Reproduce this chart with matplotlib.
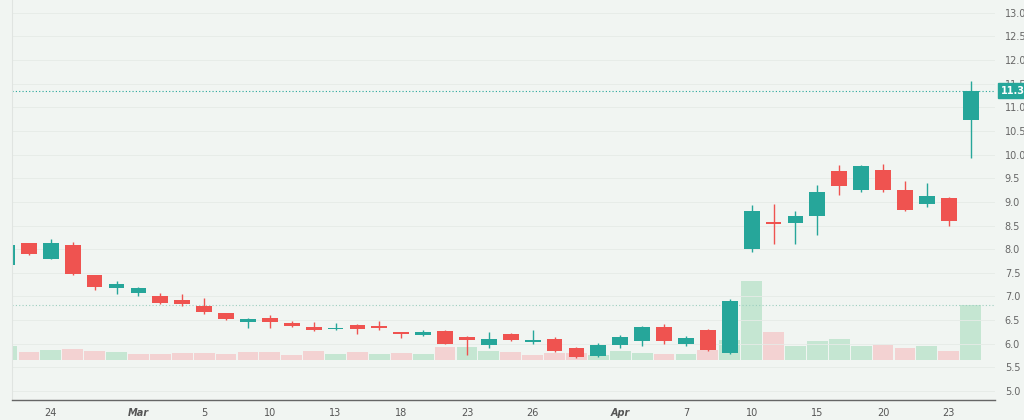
import matplotlib
matplotlib.use("Agg")
import matplotlib.pyplot as plt
import numpy as np

opens  = [7.67,8.12,7.80,8.09,7.45,7.17,7.08,7.00,6.93,6.80,6.64,6.46,6.55,6.43,6.35,6.31,6.39,6.37,6.24,6.18,6.27,6.14,5.97,6.21,
          6.04,6.10,5.92,5.75,5.98,6.05,6.35,6.00,6.28,5.80,8.00,8.57,8.55,8.70,9.65,9.25,9.68,9.25,8.95,9.08,10.74]
closes = [8.09,7.89,8.12,7.47,7.21,7.26,7.17,6.87,6.84,6.67,6.53,6.52,6.45,6.37,6.29,6.33,6.31,6.34,6.20,6.25,6.00,6.07,6.10,6.08,
          6.06,5.85,5.72,5.98,6.15,6.35,6.05,6.12,5.87,6.90,8.80,8.53,8.70,9.20,9.33,9.75,9.25,8.83,9.12,8.60,11.35]
highs  = [8.10,8.13,8.22,8.15,7.46,7.33,7.21,7.07,7.05,6.97,6.66,6.55,6.60,6.49,6.45,6.44,6.41,6.49,6.25,6.28,6.29,6.16,6.24,6.22,
          6.30,6.14,5.94,6.02,6.18,6.38,6.42,6.17,6.31,6.95,8.93,8.95,8.80,9.35,9.78,9.77,9.80,9.45,9.40,9.10,11.56]
lows   = [7.66,7.87,7.79,7.46,7.14,7.05,7.02,6.85,6.80,6.62,6.51,6.34,6.34,6.36,6.26,6.30,6.21,6.29,6.12,6.16,5.99,5.77,5.92,6.05,
          6.00,5.82,5.70,5.72,5.90,5.96,6.00,5.95,5.85,5.78,7.95,8.10,8.10,8.30,9.15,9.20,9.20,8.80,8.90,8.50,9.92]
volumes = [14,8.3,10,10.7,9,8,6,6,6.7,6.7,6,8,8,5,8.7,6,8,6,7.3,6,13.3,12.7,8.7,8,
           5.3,6.7,6.7,5.3,9,7,6.3,6.3,10,20,79,28,14,19,21,14,15,12,14,9,55]
vol_up = [1,0,1,0,0,1,0,0,0,0,0,0,0,0,0,1,0,1,0,1,0,1,1,0,
          0,0,0,1,1,1,0,1,0,1,1,0,1,1,1,1,0,0,1,0,1]
tick_idx = [2,6,9,12,15,18,21,24,28,31,34,37,40,43]
tick_lbl = ["24","Mar","5","10","13","18","23","26","Apr","7","10","15","20","23"]
price_ticks = [5.0,5.5,6.0,6.5,7.0,7.5,8.0,8.5,9.0,9.5,10.0,10.5,11.0,11.5,12.0,12.5,13.0]
last_price = 11.35

UP, DN = "#26a69a", "#ef5350"
BG = "#f1f5f2"
W, H = 1024, 420
fig = plt.figure(figsize=(W/100, H/100), dpi=100, facecolor=BG)
ax = fig.add_axes([12/W, 1-400/H, (995-12)/W, 400/H])
ax.set_facecolor(BG)
axv = ax.twinx()
ax.set_zorder(2); ax.patch.set_visible(False)
axv.set_zorder(1)

x = np.arange(len(opens))
for yv in price_ticks:
    ax.axhline(yv, color="#e6ebe7", lw=0.6, zorder=0)

vcols = [("#c5e6d2" if u else "#f3d2d2") for u in vol_up]
axv.bar(x, volumes, width=0.95, color=vcols, bottom=0)
axv.set_ylim(-40, 360)
axv.axhline(volumes[-1], color="#9ccfc0", lw=0.8, ls=(0, (1, 2)))
axv.axis("off")

for i in x:
    c = UP if closes[i] >= opens[i] else DN
    ax.vlines(i, lows[i], highs[i], color=c, lw=1)
    b = min(opens[i], closes[i]); h = max(abs(closes[i]-opens[i]), 0.03)
    ax.bar(i, h, bottom=b, width=0.72, color=c)

ax.axhline(last_price, color=UP, lw=0.8, ls=(0, (1, 2)))
ax.set_xlim(0.228, 45.11)
ax.set_ylim(4.81, 13.27)
ax.yaxis.tick_right()
ax.set_yticks(price_ticks)
ax.set_yticklabels([f"{v:.1f}" for v in price_ticks])
ax.tick_params(axis="y", length=0, labelsize=7, labelcolor="#666666", pad=7)
ax.set_xticks(tick_idx)
ax.set_xticklabels(tick_lbl)
for t in ax.get_xticklabels():
    if t.get_text() in ("Mar", "Apr"):
        t.set_fontweight("bold"); t.set_fontstyle("italic")
ax.tick_params(axis="x", length=0, labelsize=7, labelcolor="#555555", pad=6)
for s in ("top", "right"):
    ax.spines[s].set_visible(False)
ax.spines["bottom"].set_color("#666666"); ax.spines["bottom"].set_linewidth(1)
ax.spines["left"].set_color("#e0e4e1")
ax.text(1.006, last_price, f"{last_price:.2f}", transform=ax.get_yaxis_transform(),
        color="white", fontsize=7, fontweight="bold", va="center", ha="left",
        bbox=dict(boxstyle="square,pad=0.25", fc=UP, ec=UP), clip_on=False, zorder=5)
fig.savefig("out.png", dpi=100, facecolor=BG)
